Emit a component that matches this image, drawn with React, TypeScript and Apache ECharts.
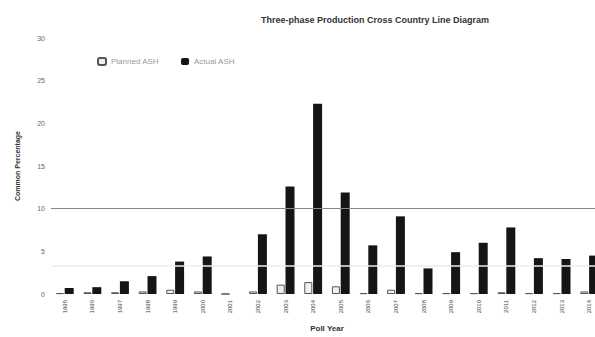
import React, { useEffect, useRef } from "react";
import * as echarts from "echarts";

const years = [
  "1995", "1996", "1997", "1998", "1999", "2000", "2001", "2002", "2003", "2004",
  "2005", "2006", "2007", "2008", "2009", "2010", "2011", "2012", "2013", "2014",
];
const planned = [0.1, 0.2, 0.2, 0.3, 0.5, 0.3, 0, 0.3, 1.1, 1.4, 0.9, 0.1, 0.5, 0.1, 0.1, 0.1, 0.2, 0.1, 0.1, 0.3];
const actual = [0.7, 0.8, 1.5, 2.1, 3.8, 4.4, 0, 7.0, 12.6, 22.3, 11.9, 5.7, 9.1, 3.0, 4.9, 6.0, 7.8, 4.2, 4.1, 4.5];
const yTicks = { min: 0, max: 30, interval: 5 };
const referenceLevels = [10, 3.35];

export default function App() {
  const ref = useRef<HTMLDivElement>(null);
  useEffect(() => {
    document.body.style.margin = "0";
    document.body.style.overflow = "hidden";
    const chart = echarts.init(ref.current!, undefined, { renderer: "svg" });
    chart.setOption({
      animation: false,
      backgroundColor: "#ffffff",
      textStyle: { fontFamily: "Liberation Sans, Arial, sans-serif" },
      title: {
        text: "Three-phase Production Cross Country Line Diagram",
        left: 256,
        top: 10,
        textStyle: { fontSize: 9, fontWeight: "bold", color: "#333" },
      },
      legend: {
        left: 92,
        top: 52,
        itemWidth: 8,
        itemHeight: 7,
        itemGap: 22,
        textStyle: { fontSize: 8, color: "#999" },
        data: ["Planned ASH", "Actual ASH"],
      },
      grid: { left: 51, width: 552, top: 38, bottom: 40 },
      xAxis: {
        type: "category",
        data: years,
        name: "Poll Year",
        nameLocation: "middle",
        nameGap: 30,
        nameTextStyle: { fontSize: 8, fontWeight: "bold", color: "#333" },
        axisLine: { show: false },
        axisTick: { show: false },
        axisLabel: { rotate: 90, fontSize: 6, color: "#444", margin: 6, interval: 0 },
      },
      yAxis: {
        type: "value",
        ...yTicks,
        name: "Common Percentage",
        nameLocation: "middle",
        nameGap: 30,
        nameTextStyle: { fontSize: 7, fontWeight: "bold", color: "#333" },
        axisLine: { show: false },
        axisTick: { show: false },
        splitLine: { show: false },
        axisLabel: { fontSize: 7, color: "#666", margin: 6 },
      },
      series: [
        {
          name: "Planned ASH",
          type: "bar",
          data: planned,
          barWidth: 8,
          barGap: "10%",
          itemStyle: { color: "#f0f0f0", borderColor: "#555", borderWidth: 1 },
        },
        {
          name: "Actual ASH",
          type: "bar",
          data: actual,
          barWidth: 9,
          itemStyle: { color: "#151515" },
          markLine: {
            symbol: "none",
            silent: true,
            label: { show: false },
            data: [
              { yAxis: referenceLevels[0], lineStyle: { color: "#888", width: 1, type: "solid" } },
              { yAxis: referenceLevels[1], lineStyle: { color: "#ececec", width: 1.5, type: "solid" } },
            ],
          },
        },
      ],
    });
    return () => chart.dispose();
  }, []);
  return <div ref={ref} style={{ width: 610, height: 337 }} />;
}
